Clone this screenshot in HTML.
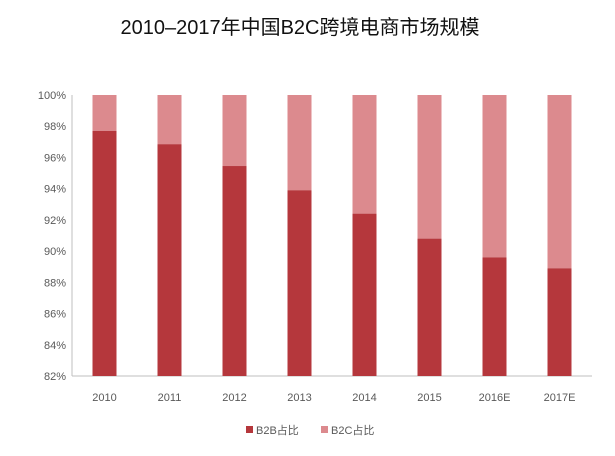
<!DOCTYPE html>
<html><head><meta charset="utf-8"><style>
body{margin:0;background:#fff;width:615px;height:451px;overflow:hidden}
svg text{font-family:"Liberation Sans","Noto Sans CJK SC",sans-serif}
</style></head><body>
<svg width="615" height="451">
<text x="300" y="34" text-anchor="middle" font-size="20" fill="#111">2010–2017年中国B2C跨境电商市场规模</text>
<g id="plot"></g>
<g>
<rect x="246" y="426" width="7" height="7" fill="#b5373c"/>
<text x="256" y="434" font-size="11" fill="#595959">B2B占比</text>
<rect x="321" y="426" width="7" height="7" fill="#dc8a8e"/>
<text x="331" y="434" font-size="11" fill="#595959">B2C占比</text>
</g>
</svg>
<script>
const categories=["2010","2011","2012","2013","2014","2015","2016E","2017E"];
const b2bShare=[97.7,96.85,95.45,93.9,92.4,90.8,89.6,88.9];
const yTicks=[82,84,86,88,90,92,94,96,98,100];
const yMin=82,yMax=100,plotTop=95,plotBottom=376,plotLeft=72,plotRight=592;
const ns="http://www.w3.org/2000/svg";
const g=document.getElementById("plot");
function yScale(v){return plotBottom-(v-yMin)/(yMax-yMin)*(plotBottom-plotTop);}
const band=(plotRight-plotLeft)/categories.length;
function xc(i){return plotLeft+band*(i+0.5);}
function mk(t,a){const e=document.createElementNS(ns,t);for(const k in a)e.setAttribute(k,a[k]);g.appendChild(e);return e;}
yTicks.forEach(v=>{
 const t=mk("text",{x:plotLeft-6,y:yScale(v)+4,"text-anchor":"end","font-size":"11",fill:"#595959"});
 
 
 t.textContent=v+"%";
});
const bx=mk("line",{x1:plotLeft,y1:plotBottom,x2:plotRight,y2:plotBottom,stroke:"#bfbfbf"});


const bw=24;
categories.forEach((c,i)=>{
 const l=mk("rect",{x:xc(i)-bw/2,y:yScale(yMax),width:bw,height:yScale(b2bShare[i])-yScale(yMax),fill:"#dc8a8e"});
 
 
 const d=mk("rect",{x:xc(i)-bw/2,y:yScale(b2bShare[i]),width:bw,height:plotBottom-yScale(b2bShare[i]),fill:"#b5373c"});
 
 
 const t=mk("text",{x:xc(i),y:401,"text-anchor":"middle","font-size":"11",fill:"#595959"});
 
 
 t.textContent=c;
});
const ax=mk("line",{x1:plotLeft,y1:plotTop,x2:plotLeft,y2:plotBottom,stroke:"#bfbfbf"});


</script>
</body></html>
